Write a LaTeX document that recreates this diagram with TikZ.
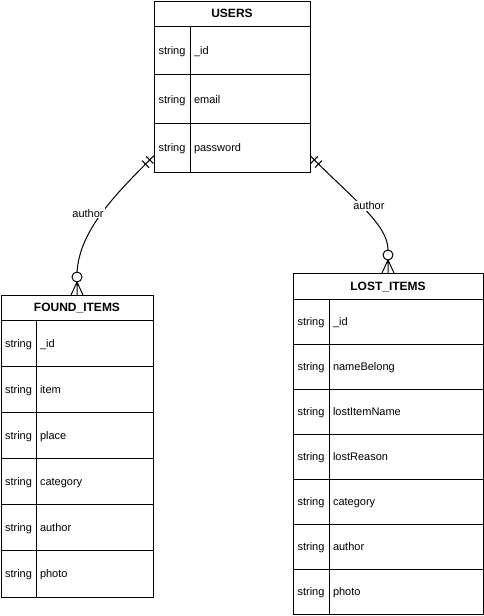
\documentclass[tikz,border=0pt]{standalone}
\usepackage{fontspec}
\setmainfont{Liberation Sans}
\usetikzlibrary{positioning}
\usetikzlibrary{decorations.markings}

\begin{document}
\begin{tikzpicture}[x=1pt, y=-1pt, line width=1pt,
	tabhead/.style={draw, outer sep=0pt, inner sep=0pt, anchor=north west, text height=8.6pt, text depth=0pt, font=\bfseries\fontsize{12}{14}\selectfont},
	typecell/.style={draw, outer sep=0pt, inner sep=0pt, anchor=north west, text height=8pt, text depth=0pt, font=\fontsize{11}{13}\selectfont},
	fieldcell/.style={draw, outer sep=0pt, inner xsep=4pt, inner ysep=0pt, align=left, text height=8pt, text depth=0pt, font=\fontsize{11}{13}\selectfont},
	lbl/.style={fill=white, inner sep=1pt, font=\fontsize{11}{13}\selectfont},
	optcircle/.style={draw, circle, fill=white, minimum size=10pt, inner sep=0pt, outer sep=0pt},
	onlyone/.style={postaction={decorate, decoration={markings,
		mark=at position 6pt with {\draw (0,-5pt) -- (0,5pt);},
		mark=at position 12pt with {\draw (0,-5pt) -- (0,5pt);}}}}
	]
	\useasboundingbox (0,0) rectangle (484,616);
	
	% USERS table
	\node[tabhead, minimum width=156pt, minimum height=25pt] (users) at (154,1) {USERS};
	\foreach \f [count=\i] in {\_id,email,password} {
		\node[typecell, minimum width=36pt, minimum height=48.67pt] (users-t\i) at (154,{26+(\i-1)*48.67}) {string};
		\node[fieldcell, text width=112pt, minimum height=48.67pt, right=0pt of users-t\i] (users-f\i) {\f};
	}
	
	% FOUND_ITEMS table
	\node[tabhead, minimum width=152pt, minimum height=25pt] (found) at (1,295) {FOUND\_ITEMS};
	\foreach \f [count=\i] in {\_id,item,place,category,author,photo} {
		\node[typecell, minimum width=35pt, minimum height=46.17pt] (found-t\i) at (1,{320+(\i-1)*46.17}) {string};
		\node[fieldcell, text width=109pt, minimum height=46.17pt, right=0pt of found-t\i] (found-f\i) {\f};
	}
	
	% LOST_ITEMS table
	\node[tabhead, minimum width=190pt, minimum height=26pt] (lost) at (293,273) {LOST\_ITEMS};
	\foreach \f [count=\i] in {\_id,nameBelong,lostItemName,lostReason,category,author,photo} {
		\node[typecell, minimum width=36pt, minimum height=45pt] (lost-t\i) at (293,{299+(\i-1)*45}) {string};
		\node[fieldcell, text width=146pt, minimum height=45pt, right=0pt of lost-t\i] (lost-f\i) {\f};
	}
	
	% Relations
	\node[optcircle, above=13pt of found] (found-o) {};
	\node[optcircle, above=13pt of lost] (lost-o) {};
	
	\draw[onlyone] ([yshift=-8pt]users-t3.west) .. controls +(-40,40) and +(3,-42) .. (found-o.north)
		node[lbl, pos=0.5, xshift=-13.6pt] {author};
	\draw[onlyone] ([yshift=-8pt]users-f3.east) .. controls +(45,45) and +(0,-25) .. (lost-o.north)
		node[lbl, pos=0.5, xshift=3pt, yshift=4.5pt] {author};
	
	% Crow's feet
	\draw (found-o.south) -- ([xshift=-6pt]found.north)
		(found-o.south) -- (found.north)
		(found-o.south) -- ([xshift=6pt]found.north);
	\draw (lost-o.south) -- ([xshift=-6pt]lost.north)
		(lost-o.south) -- (lost.north)
		(lost-o.south) -- ([xshift=6pt]lost.north);
\end{tikzpicture}
\end{document}
